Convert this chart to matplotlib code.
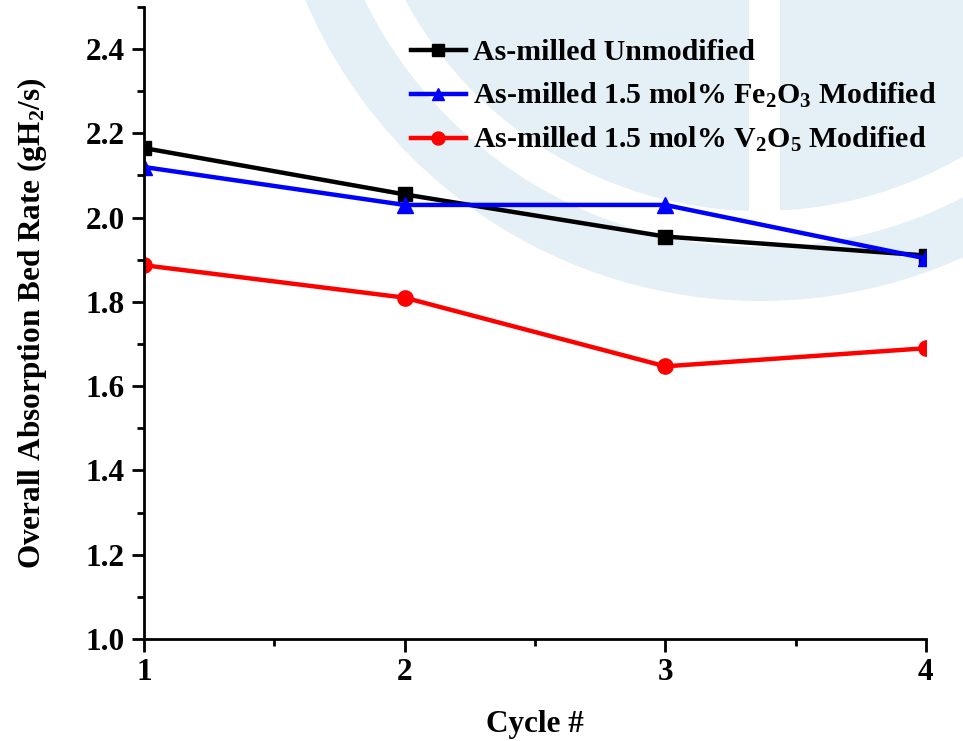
import matplotlib.pyplot as plt
from matplotlib.patches import Circle, Wedge, Rectangle
from matplotlib.ticker import MultipleLocator

# cycle data
cycles = [1, 2, 3, 4]
unmodified = [2.165, 2.055, 1.955, 1.91]
fe2o3_mod = [2.12, 2.03, 2.03, 1.903]
v2o5_mod = [1.887, 1.81, 1.647, 1.69]

labels = ['As-milled Unmodified',
          'As-milled 1.5 mol% Fe$_2$O$_3$ Modified',
          'As-milled 1.5 mol% V$_2$O$_5$ Modified']

plt.rcParams['font.family'] = 'Liberation Serif'
plt.rcParams['font.weight'] = 'bold'
plt.rcParams['mathtext.fontset'] = 'custom'
plt.rcParams['mathtext.rm'] = 'Liberation Serif:bold'
plt.rcParams['mathtext.default'] = 'rm'

fig = plt.figure(figsize=(9.63, 7.41), dpi=100)

# faint logo watermark behind the plot
bg = fig.add_axes([0, 0, 1, 1], zorder=0)
bg.set_xlim(0, 963)
bg.set_ylim(741, 0)
bg.axis('off')
wm = '#e4eff6'
bg.add_patch(Circle((760, -193), 494, color=wm, lw=0))
bg.add_patch(Wedge((760, -193), 440, 0, 360, width=36, color='white', lw=0))
bg.add_patch(Rectangle((749, -193), 31, 404, color='white', lw=0))

ax = fig.add_axes([0.1495, 0.1377, 0.812, 0.853], zorder=1)
ax.patch.set_alpha(0)

ax.plot(cycles, unmodified, color='black', lw=3.2, marker='s', ms=10, label=labels[0])
ax.plot(cycles, fe2o3_mod, color='blue', lw=3.2, marker='^', ms=11, label=labels[1])
ax.plot(cycles, v2o5_mod, color='red', lw=3.2, marker='o', ms=11, label=labels[2])

ax.set_xlim(1, 4)
ax.set_ylim(1.0, 2.5)
ax.xaxis.set_major_locator(MultipleLocator(1))
ax.xaxis.set_minor_locator(MultipleLocator(0.5))
ax.yaxis.set_major_locator(MultipleLocator(0.2))
ax.yaxis.set_minor_locator(MultipleLocator(0.1))

for side in ['top', 'right']:
    ax.spines[side].set_visible(False)
for side in ['left', 'bottom']:
    ax.spines[side].set_linewidth(2)

ax.tick_params(which='major', direction='out', length=9, width=2, labelsize=22.5, pad=5)
ax.tick_params(which='minor', direction='out', length=5, width=2)
ax.yaxis.set_major_formatter(plt.FormatStrFormatter('%.1f'))

ax.set_xlabel('Cycle #', fontsize=22.5, fontweight='bold', labelpad=16)
ax.set_ylabel('Overall Absorption Bed Rate (gH$_2$/s)', fontsize=22.5, fontweight='bold', labelpad=26)

ax.legend(loc='upper left', bbox_to_anchor=(0.326, 0.968), frameon=False, fontsize=21.5,
          handlelength=1.85, handletextpad=0.22, labelspacing=0.5, borderaxespad=0,
          markerscale=0.85)

fig.savefig('out.png', dpi=100)
